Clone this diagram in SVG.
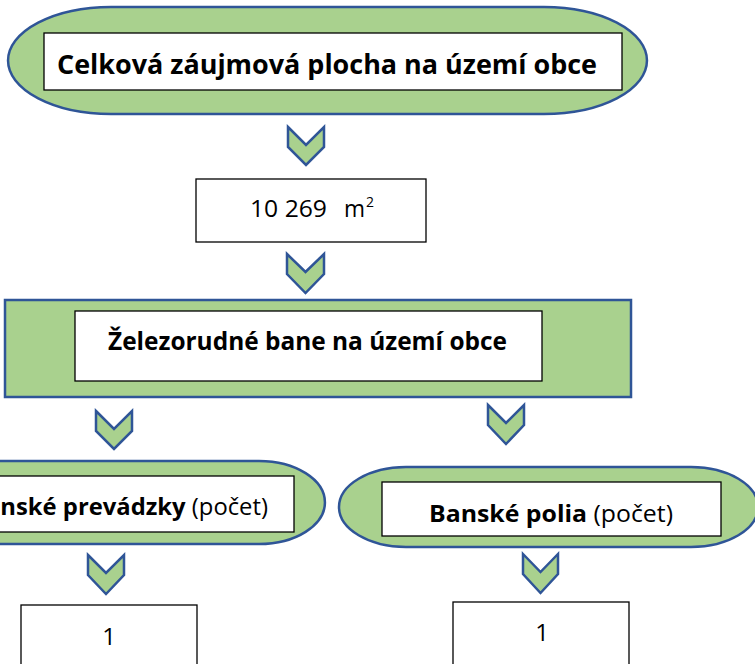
<svg xmlns="http://www.w3.org/2000/svg" width="755" height="664" viewBox="0 0 755 664">
<style>
.green{fill:#A9D18E;stroke:#2F5597;stroke-width:2.5}
.box{fill:#FFFFFF;stroke:#000000;stroke-width:1.3}
.chev{fill:#A9D18E;stroke:#2F5597;stroke-width:2.5;stroke-linejoin:miter}
.t{font-family:"Open Sans","Liberation Sans",sans-serif;fill:#000000}
.b{font-weight:bold}
</style>
<rect width="755" height="664" fill="#FFFFFF"/>
<g id="node-celkova">
<path class="green" d="M111,7 H544 A103,53.5 0 0 1 544,114 H111 A103,53.5 0 0 1 111,7 Z"/>
<rect class="box" x="44" y="33" width="578" height="57"/>
<text class="t b" x="57" y="74" font-size="26.5" textLength="540" lengthAdjust="spacingAndGlyphs">Celková záujmová plocha na území obce</text>
</g>
<g id="node-plocha">
<rect class="box" x="196" y="179" width="230" height="63"/>
<text class="t" font-size="24"><tspan x="250" y="217" textLength="77" lengthAdjust="spacingAndGlyphs">10 269</tspan><tspan x="344" y="217" textLength="21" lengthAdjust="spacingAndGlyphs">m</tspan><tspan x="366" y="207" font-size="14">2</tspan></text>
</g>
<g id="node-bane">
<rect class="green" x="5" y="300" width="626" height="97"/>
<rect class="box" x="75" y="311" width="467" height="70"/>
<text class="t b" x="108" y="350" font-size="24.5" textLength="399" lengthAdjust="spacingAndGlyphs">Železorudné bane na území obce</text>
</g>
<g id="node-prevadzky">
<path class="green" d="M-21,461 H259 A66,41.5 0 0 1 259,544 H-21 A66,41.5 0 0 1 -21,461 Z"/>
<rect class="box" x="-56" y="476" width="350" height="56"/>
<text class="t" x="-30" y="515" font-size="24" textLength="298" lengthAdjust="spacingAndGlyphs"><tspan class="b">Banské prevádzky</tspan> (počet)</text>
</g>
<g id="node-polia">
<path class="green" d="M406,467 H691 A67,40 0 0 1 691,547 H406 A67,40 0 0 1 406,467 Z"/>
<rect class="box" x="382" y="482" width="339" height="54"/>
<text class="t" x="429" y="522" font-size="24" textLength="244" lengthAdjust="spacingAndGlyphs"><tspan class="b">Banské polia</tspan> (počet)</text>
</g>
<g id="node-prevadzky-count">
<rect class="box" x="21" y="605" width="176" height="70"/>
<text class="t" x="109" y="645" font-size="24" text-anchor="middle">1</text>
</g>
<g id="node-polia-count">
<rect class="box" x="453" y="602" width="176" height="73"/>
<text class="t" x="542" y="641" font-size="24" text-anchor="middle">1</text>
</g>
<g id="connectors">
<polygon class="chev" points="288,127 306,145 324,127 324,147 306,165 288,147"/>
<polygon class="chev" points="287,254 305.5,272 324,254 324,274 305.5,293 287,274"/>
<polygon class="chev" points="96,411 114,429 132,411 132,431 114,449 96,431"/>
<polygon class="chev" points="488,405 506,423 524,405 524,425 506,444 488,425"/>
<polygon class="chev" points="88,555 106,573 124,555 124,575 106,594 88,575"/>
<polygon class="chev" points="523,554 540.5,572 558,554 558,574 540.5,593 523,574"/>
</g>
</svg>
